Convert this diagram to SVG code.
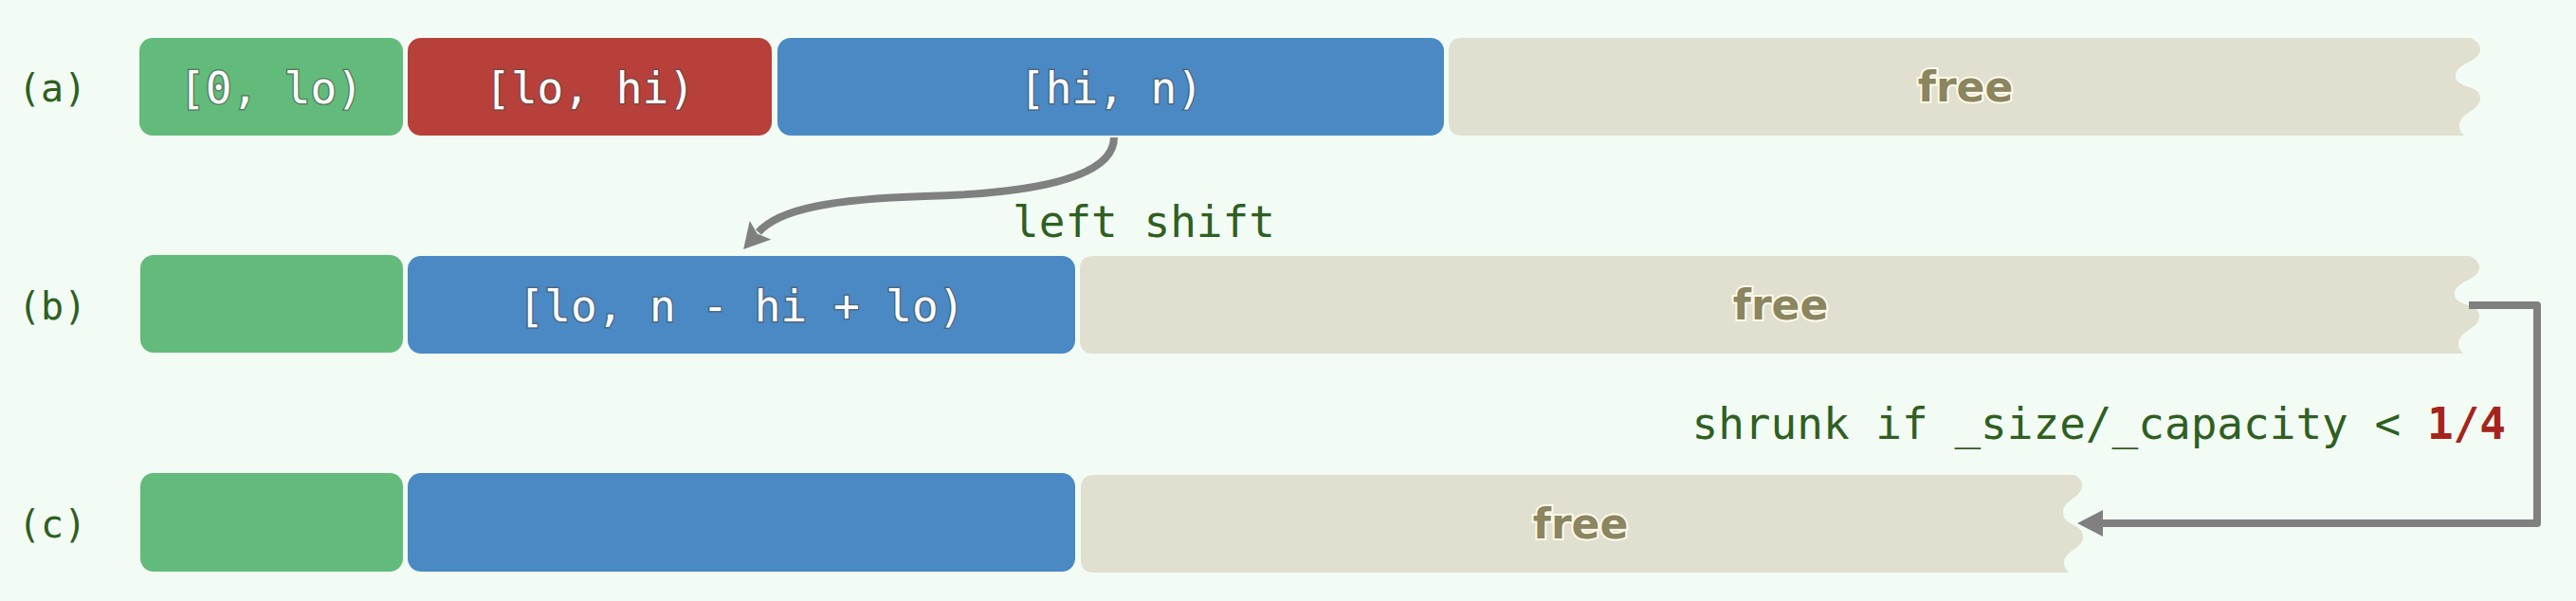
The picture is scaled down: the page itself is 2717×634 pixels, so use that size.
<svg xmlns="http://www.w3.org/2000/svg" width="2717" height="634" viewBox="0 0 2717 634">
<style>
.bg{fill:#f2fcf4}
.g{fill:#62bb7a}
.r{fill:#b8403a}
.b{fill:#4a89c4}
.f{fill:#e0dfd0}
.bt{font-family:"DejaVu Sans Mono","Liberation Mono",monospace;font-size:46px;fill:#ffffff;stroke:#4d4d4d;stroke-opacity:.55;stroke-width:3px;paint-order:stroke;text-anchor:middle}
.ft{font-family:"DejaVu Sans","Liberation Sans",sans-serif;font-weight:bold;font-size:44px;fill:#8b8560;stroke:#fffbea;stroke-width:4px;paint-order:stroke;text-anchor:middle}
.lab{font-family:"DejaVu Sans Mono","Liberation Mono",monospace;font-size:40px;fill:#2f5f22}
.cl{font-family:"DejaVu Sans Mono","Liberation Mono",monospace;font-size:46px;fill:#2f5f22}
.em{fill:#a5241c;font-weight:bold}
.con{fill:none;stroke:#808080;stroke-width:8px;stroke-linejoin:round}
</style>
<defs>
<marker id="ah" markerUnits="userSpaceOnUse" markerWidth="28" markerHeight="28" viewBox="0 0 28 28" refX="1" refY="14" orient="auto">
<path d="M0,0 L27,14 L0,28 Z" fill="#808080"/>
</marker>
<marker id="ahn" markerUnits="userSpaceOnUse" markerWidth="28" markerHeight="30" viewBox="0 0 28 30" refX="3" refY="15" orient="auto">
<path d="M0,0 L27,15 L0,30 L5,15 Z" fill="#808080"/>
</marker>
</defs>
<rect class="bg" x="0" y="0" width="2717" height="634"/>

<g id="row-a">
<text id="label-a" class="lab" x="19" y="107">(a)</text>
<g id="a-lo"><rect class="g" x="147" y="40" width="278" height="103" rx="14"/><text class="bt" x="286" y="109">[0, lo)</text></g>
<g id="a-hi"><rect class="r" x="430" y="40" width="384" height="103" rx="14"/><text class="bt" x="622" y="109">[lo, hi)</text></g>
<g id="a-n"><rect class="b" x="820" y="40" width="703" height="103" rx="14"/><text class="bt" x="1172" y="109">[hi, n)</text></g>
<g id="a-free"><path class="f" d="M1542,40 H2606 C2610,42 2616,46 2616,52 C2616,66 2590,66 2590,80 C2590,94 2616,89 2616,103 C2616,118 2594,118 2594,133 C2594,138 2597,140 2599,143 H1542 Q1528,143 1528,129 V54 Q1528,40 1542,40 Z"/><text class="ft" x="2073" y="107">free</text></g>
</g>

<g id="row-b">
<text id="label-b" class="lab" x="19" y="337">(b)</text>
<g id="b-lo"><rect class="g" x="148" y="269" width="277" height="103" rx="14"/></g>
<g id="b-n"><rect class="b" x="430" y="270" width="704" height="103" rx="14"/><text class="bt" x="782" y="339">[lo, n - hi + lo)</text></g>
<g id="b-free"><path class="f" d="M1153,270 H2605 C2609,272 2615,276 2615,282 C2615,296 2589,296 2589,310 C2589,324 2615,319 2615,333 C2615,348 2593,348 2593,363 C2593,368 2596,370 2598,373 H1153 Q1139,373 1139,359 V284 Q1139,270 1153,270 Z"/><text class="ft" x="1878" y="337">free</text></g>
</g>

<g id="row-c">
<text id="label-c" class="lab" x="19" y="567">(c)</text>
<g id="c-lo"><rect class="g" x="148" y="499" width="277" height="104" rx="14"/></g>
<g id="c-n"><rect class="b" x="430" y="499" width="704" height="104" rx="14"/></g>
<g id="c-free"><path class="f" d="M1154,501 H2188 C2192,503 2196,506 2196,512 C2196,526 2176,526 2176,541 C2176,555 2197,552 2197,566 C2197,580 2177,580 2177,594 C2177,599 2180,601 2182,604 H1154 Q1140,604 1140,590 V515 Q1140,501 1154,501 Z"/><text class="ft" x="1667" y="568">free</text></g>
</g>

<g id="connectors">
<path class="con" d="M1175,145 C1175,185 1100,204 975,207 C880,210 822,220 800,245" marker-end="url(#ahn)"/>
<text class="cl" x="1068" y="250">left shift</text>
<path class="con" d="M2604,322 H2676 V552 H2217" marker-end="url(#ah)"/>
<text class="cl" x="2643" y="463" text-anchor="end">shrunk if _size/_capacity &lt; <tspan class="em">1/4</tspan></text>
</g>
</svg>
